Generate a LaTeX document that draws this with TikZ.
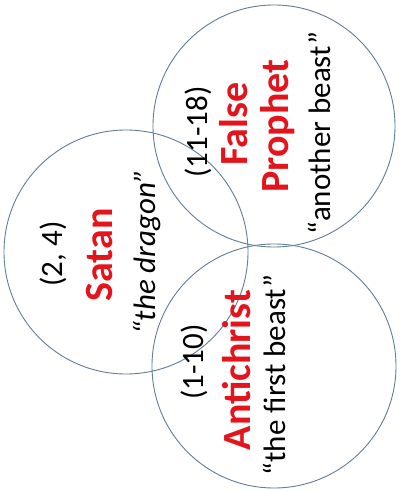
\documentclass[tikz,border=0pt]{standalone}
\usepackage{fontspec}
\setmainfont{Carlito}
\definecolor{ringblue}{RGB}{100,125,150}
\definecolor{namered}{RGB}{228,20,28}
\tikzset{
  ring/.style={draw=ringblue, line width=0.9pt},
  reftext/.style={rotate=90, anchor=base, inner sep=0pt, font=\fontsize{31}{36}\selectfont, text=black},
  quotetext/.style={reftext},
  nametext/.style={rotate=90, anchor=base, inner sep=0pt, font=\fontsize{40}{46}\selectfont\bfseries, text=namered}
}
\begin{document}
\begin{tikzpicture}[x=1pt,y=1pt]
\useasboundingbox (0,0) rectangle (402,491);
% circles
\draw[ring] (126,239) circle[radius=122];
\draw[ring] (274,365) circle[radius=121];
\draw[ring] (274,125) circle[radius=122];
% Satan
\node[reftext] (s1) at (62,237) {(2, 4)};
\node[nametext] (s2) at (112,236) {Satan};
\node[quotetext] (s3) at (155,239) {\itshape “the dragon”};
% False Prophet
\node[reftext] (f1) at (207,359) {(11-18)};
\node[nametext] (f2) at (247,367) {False};
\node[nametext] (f3) at (288,365) {Prophet};
\node[quotetext] (f4) at (330,358) {“another beast”};
% Antichrist
\node[reftext] (a1) at (203,129) {(1-10)};
\node[nametext] (a2) at (250,121) {Antichrist};
\node[quotetext] (a3) at (285,116) {“the first beast”};
\end{tikzpicture}
\end{document}
